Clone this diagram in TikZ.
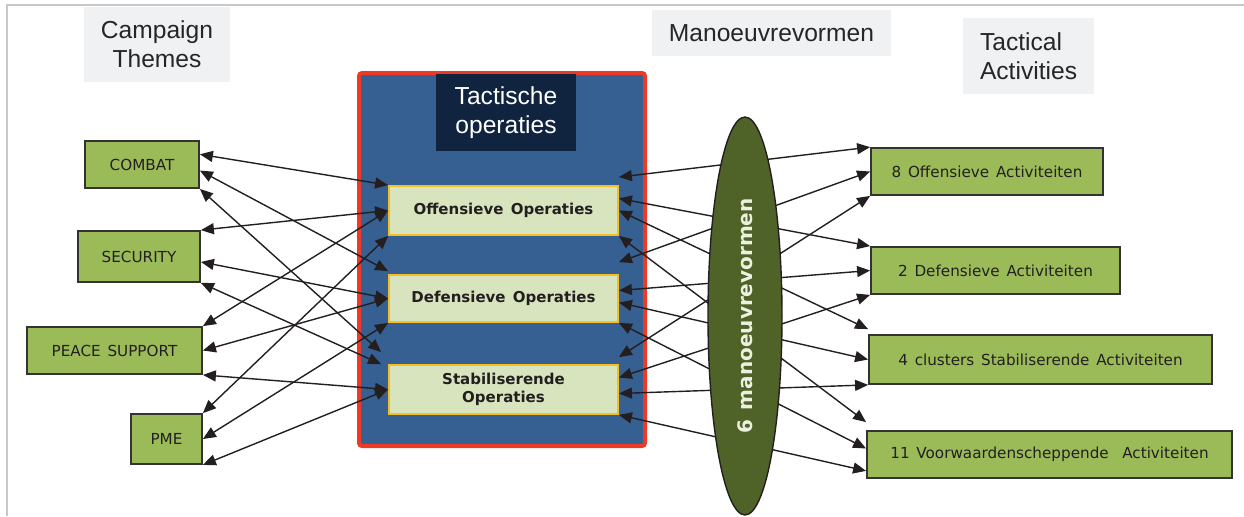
\documentclass[tikz,border=0pt]{standalone}
\usepackage{fontspec}
\setmainfont{Liberation Sans}
\newfontfamily\verdana[WordSpace=1.4]{DejaVu Sans}
\usetikzlibrary{shapes.geometric,arrows.meta}
\definecolor{hdrgray}{HTML}{F0F1F3}
\definecolor{hdrtext}{HTML}{262626}
\definecolor{framegray}{HTML}{C8C8C8}
\definecolor{tacblue}{HTML}{365F92}
\definecolor{tacred}{HTML}{EC3A25}
\definecolor{navy}{HTML}{10233F}
\definecolor{oplight}{HTML}{D7E4BD}
\definecolor{opline}{HTML}{F5BE24}
\definecolor{grn}{HTML}{9BBB59}
\definecolor{boxline}{HTML}{333333}
\definecolor{olive}{HTML}{4F6228}
\definecolor{cream}{HTML}{EBF1DE}
\definecolor{txt}{HTML}{231F20}

\begin{document}
\begin{tikzpicture}[x=0.5pt,y=-0.5pt,
  hdr/.style={fill=hdrgray,inner sep=0pt,align=center,text=hdrtext,font=\fontsize{12.3}{14.5}\selectfont},
  theme/.style={draw=boxline,line width=0.9pt,fill=grn,inner sep=0pt,text=txt,font=\verdana\fontsize{7.6}{9}\selectfont},
  op/.style={draw=opline,line width=0.9pt,fill=oplight,inner sep=0pt,align=center,minimum width=114.5pt,text=txt,font=\verdana\bfseries\fontsize{7.5}{9}\selectfont},
  link/.style={<->,>={Triangle[length=6.5pt,width=5.5pt]},line width=0.7pt,draw=txt}]
  \useasboundingbox (0,0) rectangle (1244,516);
  \draw[framegray,line width=1pt] (7,516) |- (1244,5);

  \node[hdr,minimum width=73pt,minimum height=37.5pt] at (157,44.5) (campaign) {Campaign\\Themes};
  \node[hdr,minimum width=119.5pt,minimum height=23pt] at (771.5,33) (manoeuvre) {Manoeuvrevormen};
  \node[hdr,align=left,text width=48.5pt,inner xsep=8.5pt,minimum height=38pt] at (1028.5,56) (tactical) {Tactical\\Activities};

  \node[draw=tacred,line width=2pt,fill=tacblue,rounded corners=1.5pt,minimum width=143pt,minimum height=186.5pt] at (502,259.5) (tacbox) {};
  \node[fill=navy,text=white,align=center,inner sep=0pt,minimum width=70pt,minimum height=38.5pt,font=\fontsize{12.3}{14.5}\selectfont] at (506,112.5) (tactitle) {Tactische\\operaties};
  \node[op,minimum height=24.5pt] at (503.5,210.5) (off) {Offensieve Operaties};
  \node[op,minimum height=23.5pt] at (503.5,298.5) (def) {Defensieve Operaties};
  \node[op,minimum height=24.5pt] at (503.5,389.5) (stab) {Stabiliserende\\Operaties};

  \node[theme,minimum width=57pt,minimum height=23.5pt] at (142,164.5) (combat) {COMBAT};
  \node[theme,minimum width=61pt,minimum height=25.5pt] at (139,256.5) (security) {SECURITY};
  \node[theme,minimum width=87.5pt,minimum height=23.5pt] at (114.5,350.5) (peace) {PEACE SUPPORT};
  \node[theme,minimum width=35.5pt,minimum height=25pt] at (166.5,439) (pme) {PME};

  \node[theme,minimum width=116pt,minimum height=23.5pt] at (987,171.5) (a8) {8 Offensieve Activiteiten};
  \node[theme,minimum width=124.5pt,minimum height=23.5pt] at (995.5,270.5) (a2) {2 Defensieve Activiteiten};
  \node[theme,minimum width=171.5pt,minimum height=24.5pt] at (1040.5,359.5) (a4) {4 clusters Stabiliserende Activiteiten};
  \node[theme,minimum width=182.5pt,minimum height=23.5pt] at (1049.5,454.5) (a11) {11 Voorwaardenscheppende\ \ Activiteiten};

  \draw[link] (combat.10) -- (off.north west);
  \draw[link] (combat.-6) -- ([yshift=1.5pt]def.north west);
  \draw[link] (combat.south east) -- ([xshift=-3.5pt,yshift=6pt]stab.north west);
  \draw[link] (security.north east) -- (off.west);
  \draw[link] (security.-5) -- (def.west);
  \draw[link] (security.south east) -- ([xshift=-3.5pt]stab.north west);
  \draw[link] (peace.north east) -- (off.west);
  \draw[link] (peace.east) -- (def.west);
  \draw[link] (peace.south east) -- (stab.west);
  \draw[link] (pme.north east) -- (off.south west);
  \draw[link] (pme.east) -- (def.south west);
  \draw[link] (pme.south east) -- (stab.west);

  \draw[link] ([yshift=4pt]off.north east) -- (a8.north west);
  \draw[link] ([yshift=6pt]off.east) -- (a2.north west);
  \draw[link] (off.east) -- ([yshift=2.5pt]a4.north west);
  \draw[link] (off.south east) -- ([yshift=4pt]a11.north west);
  \draw[link] ([yshift=6pt]def.north east) -- (a8.west);
  \draw[link] ([yshift=4pt]def.east) -- (a2.west);
  \draw[link] ([yshift=-2pt]def.east) -- (a4.west);
  \draw[link] (def.south east) -- ([yshift=3pt]a11.west);
  \draw[link] ([yshift=3.5pt]stab.north east) -- (a8.south west);
  \draw[link] ([yshift=6pt]stab.east) -- (a2.south west);
  \draw[link] ([yshift=-2pt]stab.east) -- (a4.south west);
  \draw[link] (stab.south east) -- ([yshift=4pt]a11.south west);

  \node[ellipse,draw=txt,line width=0.7pt,fill=olive,text=cream,inner sep=0pt,rotate=90,minimum width=199pt,minimum height=37pt,font=\verdana\bfseries\fontsize{10}{12}\selectfont] at (745,316) (forms) {6 manoeuvrevormen};
\end{tikzpicture}
\end{document}
